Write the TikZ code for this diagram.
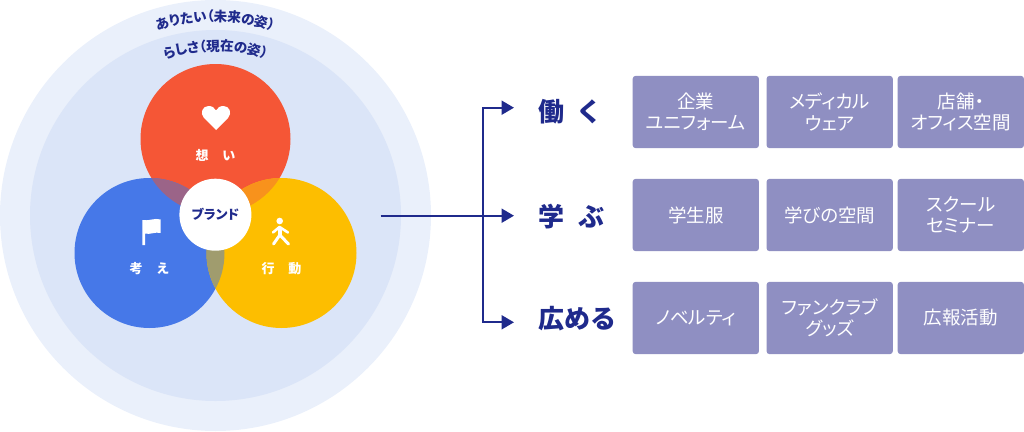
\documentclass[tikz,border=0pt]{standalone}
\usepackage{fontspec}
\setmainfont{Noto Sans CJK JP}[RawFeature=+palt]
\newfontfamily\jpfull{Noto Sans CJK JP}
\usetikzlibrary{decorations.text,arrows.meta}
\definecolor{navy}{HTML}{1F2A8C}
\definecolor{ringA}{HTML}{EAF0FB}
\definecolor{ringB}{HTML}{DBE5F8}
\definecolor{redc}{HTML}{F55636}
\definecolor{bluec}{HTML}{4678E8}
\definecolor{yelc}{HTML}{FDBE00}
\definecolor{boxc}{HTML}{8F8FC2}
\definecolor{mixA}{RGB}{155,100,136}
\definecolor{mixB}{RGB}{248,146,28}
\definecolor{mixC}{RGB}{160,156,110}
\tikzset{
  x=1pt,y=1pt,
  disc/.style={circle,inner sep=0pt,outer sep=0pt,minimum size=#1},
  tilebox/.style={fill=boxc,rounded corners=3pt,inner sep=0pt,outer sep=0pt,minimum width=126.3pt,minimum height=72.3pt,text=white,align=center,font=\fontsize{18.5}{21.5}\selectfont},
  heading/.style={text=navy,font=\jpfull\bfseries\fontsize{26}{26}\selectfont,anchor=west,inner sep=0pt},
  whitecap/.style={text=white,font=\jpfull\bfseries\fontsize{13}{13}\selectfont,inner sep=0pt},
  linkline/.style={draw=navy,line width=2.2pt},
  arrowline/.style={-{Triangle[length=12.5pt,width=14pt]}}
}
\begin{document}
\begin{tikzpicture}
\useasboundingbox (0,0) rectangle (1024,-431);
\node[disc=431pt,fill=ringA] (outer) at (215.5,-215.5) {};
\node[disc=371pt,fill=ringB] (inner) at (215.5,-215.5) {};
\node[disc=150pt,fill=redc] (red) at (215.5,-139) {};
\node[disc=150pt,fill=bluec] (blue) at (149.5,-253) {};
\node[disc=150pt,fill=yelc] (yellow) at (281.5,-253) {};
\begin{scope}
\clip (215.5,-139) circle (75);
\fill[mixA] (149.5,-253) circle (75);
\fill[mixB] (281.5,-253) circle (75);
\end{scope}
\begin{scope}
\clip (149.5,-253) circle (75);
\fill[mixC] (281.5,-253) circle (75);
\end{scope}
\node[disc=72pt,fill=white,text=navy,font=\bfseries\fontsize{13}{13}\selectfont] (brand) at (215.4,-214.7) {ブランド};
% curved captions
\path[postaction={decorate,decoration={text along path,text align=center,
  text={|\fontsize{13.5}{13.5}\selectfont\bfseries\color{navy}|ありたい（未来の姿）}}}]
  (215.5,-215.5) ++(110:194) arc[start angle=110,end angle=70,radius=194];
\path[postaction={decorate,decoration={text along path,text align=center,
  text={|\fontsize{13.5}{13.5}\selectfont\bfseries\color{navy}|らしさ（現在の姿）}}}]
  (215.5,-215.5) ++(110:164.5) arc[start angle=110,end angle=70,radius=164.5];
% icons
\fill[white] (216,-130) -- (204,-118) .. controls (199.5,-113) and (202.5,-106) .. (208.5,-106) .. controls (212,-106) and (214.5,-107.5) .. (216,-110.5) .. controls (217.5,-107.5) and (220,-106) .. (223.5,-106) .. controls (229.5,-106) and (232.5,-113) .. (228,-118) -- cycle;
\fill[white] (142.3,-245) -- (142.3,-220) .. controls (149,-221.5) and (154,-217.5) .. (160.7,-219.5) -- (160.7,-233) .. controls (155,-231.5) and (150,-235) .. (145,-233.5) -- (145,-245) -- cycle;
\fill[white] (279.7,-221) circle (3.3);
\draw[white,line width=2.6pt,line join=round,line cap=round] (273,-232.5) -- (279.5,-227) -- (288,-232.5);
\draw[white,line width=4pt,line join=round] (279.8,-226.5) -- (279.8,-236.5);
\draw[white,line width=3pt,line join=round,line cap=round] (273.5,-244) -- (279.8,-235) -- (288.5,-244);
\node[whitecap] (think) at (215.5,-155) {想\hspace{14pt}い};
\node[whitecap] (kangae) at (149.5,-269) {考\hspace{14pt}え};
\node[whitecap] (act) at (281.5,-269) {行\hspace{14pt}動};
% connectors
\coordinate (start) at (380.7,-215.7);
\coordinate (bus) at (483.3,-215.7);
\coordinate (t1) at (514,-107.7);
\coordinate (t2) at (514,-215.7);
\coordinate (t3) at (514,-322.3);
\draw[linkline,arrowline] (start) -- (t2);
\draw[linkline,arrowline] (bus) |- (t1);
\draw[linkline,arrowline] (bus) |- (t3);
\node[heading] (work) at (538,-112) {働\hspace{12pt}く};
\node[heading] (learn) at (538,-216.5) {学\hspace{14pt}ぶ};
\node[heading] (spread) at (538,-318.5) {広める};
% tiles
\node[tilebox] (a1) at (695.8,-112) {企業\\ユニフォーム};
\node[tilebox] (a2) at (829.7,-112) {メディカル\\ウェア};
\node[tilebox] (a3) at (960.8,-112) {店舗・\\オフィス空間};
\node[tilebox] (b1) at (695.8,-215) {学生服};
\node[tilebox] (b2) at (829.7,-215) {学びの空間};
\node[tilebox] (b3) at (960.8,-215) {スクール\\セミナー};
\node[tilebox] (c1) at (695.8,-318) {ノベルティ};
\node[tilebox] (c2) at (829.7,-318) {ファンクラブ\\グッズ};
\node[tilebox] (c3) at (960.8,-318) {広報活動};
\end{tikzpicture}
\end{document}
